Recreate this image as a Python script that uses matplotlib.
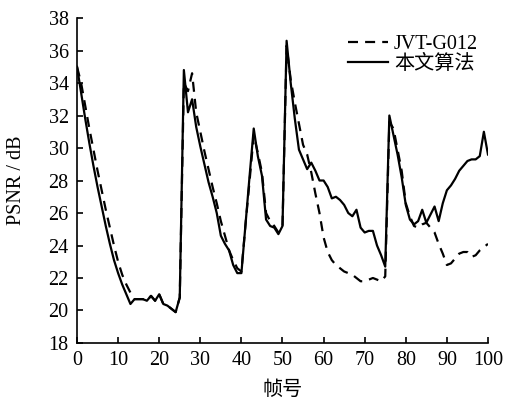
import numpy as np
import matplotlib
matplotlib.use('Agg')
from matplotlib import pyplot as plt

frames = np.arange(0, 101)

# 本文算法 (solid)
proposed = [35.0, 33.4, 31.8, 30.3, 28.9, 27.6, 26.4, 25.2, 24.1, 23.1,
            22.3, 21.6, 21.0, 20.4, 20.7, 20.7, 20.7, 20.6, 20.9, 20.6,
            21.0, 20.4, 20.3, 20.1, 19.9, 20.8, 34.8, 32.2, 33.0, 31.3,
            30.1, 29.0, 27.9, 27.0, 26.0, 24.6, 24.1, 23.7, 22.8, 22.3,
            22.3, 25.3, 28.3, 31.2, 29.5, 28.3, 25.6, 25.2, 25.1, 24.7,
            25.2, 36.6, 34.0, 31.8, 29.9, 29.3, 28.7, 29.1, 28.6, 28.0,
            28.0, 27.6, 26.9, 27.0, 26.8, 26.5, 26.0, 25.8, 26.2, 25.1,
            24.8, 24.9, 24.9, 24.0, 23.4, 22.7, 32.0, 30.8, 29.6, 28.2,
            26.5, 25.6, 25.3, 25.5, 26.2, 25.4, 25.9, 26.4, 25.5, 26.6,
            27.4, 27.7, 28.1, 28.6, 28.9, 29.2, 29.3, 29.3, 29.5, 31.0,
            29.6]

# JVT-G012 (dashed)
jvt = [35.0, 34.0, 32.6, 31.2, 29.9, 28.6, 27.4, 26.2, 25.1, 24.0,
       23.0, 22.2, 21.6, 21.1, 20.7, 20.7, 20.7, 20.6, 20.9, 20.6,
       21.0, 20.4, 20.3, 20.1, 19.9, 20.8, 34.0, 33.5, 34.6, 32.2,
       31.0, 29.8, 28.7, 27.6, 26.6, 25.5, 24.6, 23.7, 23.1, 22.6,
       22.4, 25.3, 28.0, 30.8, 29.7, 28.5, 26.0, 25.5, 25.2, 24.8,
       25.2, 36.3, 34.2, 32.8, 31.5, 30.2, 29.6, 28.5, 27.2, 26.0,
       24.5, 23.6, 23.1, 22.8, 22.6, 22.4, 22.3, 22.2, 22.0, 21.8,
       21.8, 21.9, 22.0, 21.9, 21.8, 22.1, 31.6, 31.2, 29.9, 28.6,
       26.6, 25.8, 25.2, 25.1, 25.3, 25.4, 25.1, 24.8, 24.1, 23.5,
       22.8, 22.9, 23.2, 23.5, 23.6, 23.6, 23.3, 23.4, 23.7, 23.9,
       24.1]

xticks = list(range(0, 101, 10))
yticks = list(range(18, 39, 2))

serif = ['Liberation Serif', 'Noto Sans CJK SC']
cjk = ['Noto Sans CJK SC', 'DejaVu Sans']

fig = plt.figure(figsize=(5.05, 4.04), dpi=100)
ax = fig.add_axes([0.1525, 0.151, 0.8138, 0.8044])

ax.plot(frames, jvt, color='black', lw=1.6, ls=(0, (4.5, 3.2)), label='JVT-G012')
ax.plot(frames, proposed, color='black', lw=1.6, label='本文算法')

ax.set_xlim(0, 100)
ax.set_ylim(18, 38)
ax.set_xticks(xticks)
ax.set_yticks(yticks)
ax.spines['top'].set_visible(False)
ax.spines['right'].set_visible(False)
ax.spines['left'].set_linewidth(1.2)
ax.spines['bottom'].set_linewidth(1.2)
ax.tick_params(direction='in', length=4, width=1.2, labelsize=14.5, pad=6)
for lab in ax.get_xticklabels() + ax.get_yticklabels():
    lab.set_family(serif)

ax.set_ylabel('PSNR / dB', family=serif, fontsize=14.5, labelpad=16)
ax.set_xlabel('帧号', family=cjk, fontsize=14.5, labelpad=6)

leg = ax.legend(loc='upper right', bbox_to_anchor=(1.02, 1.005), frameon=False,
                handlelength=2.0, handletextpad=0.3, labelspacing=0.05,
                prop={'family': serif, 'size': 14.5})

fig.savefig('out.png', dpi=100)
